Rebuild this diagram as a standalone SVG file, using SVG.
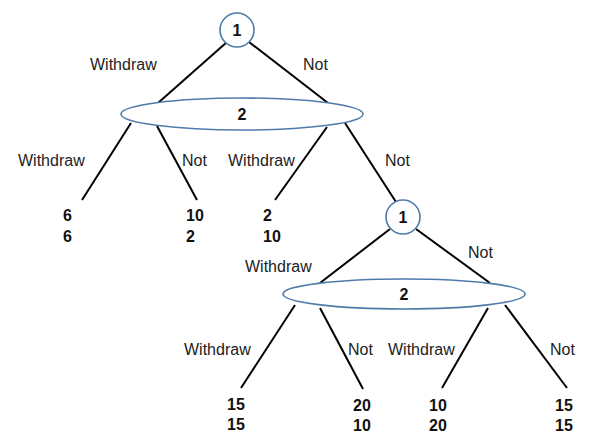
<svg xmlns="http://www.w3.org/2000/svg" width="600" height="441" viewBox="0 0 600 441">
<style>
.edge{stroke:#000;stroke-width:2;fill:none}
.node{fill:#fff;stroke:#4f7bab;stroke-width:1.6}
.lbl{font-family:"Liberation Sans",Arial,sans-serif;font-size:16px;fill:#222}
.num{font-family:"Liberation Sans",Arial,sans-serif;font-size:16px;font-weight:bold;fill:#111}
</style>
<rect width="600" height="441" fill="#fff"/>
<g id="connectors">
<line class="edge" x1="227" y1="42" x2="158" y2="103"/>
<line class="edge" x1="249" y1="42" x2="328" y2="103"/>
<line class="edge" x1="131" y1="123" x2="82" y2="200"/>
<line class="edge" x1="157" y1="126" x2="197" y2="200"/>
<line class="edge" x1="327" y1="127" x2="275" y2="200"/>
<line class="edge" x1="345" y1="123" x2="396" y2="202"/>
<line class="edge" x1="390" y1="229" x2="320" y2="283"/>
<line class="edge" x1="416" y1="229" x2="490" y2="283"/>
<line class="edge" x1="295" y1="305" x2="241" y2="388"/>
<line class="edge" x1="320" y1="308" x2="363" y2="389"/>
<line class="edge" x1="488" y1="308" x2="442" y2="388"/>
<line class="edge" x1="505" y1="305" x2="567" y2="388"/>
</g>
<g id="n1">
<circle class="node" cx="237" cy="30" r="17"/>
<text class="num" x="237" y="36" text-anchor="middle">1</text>
</g>
<g id="n2">
<ellipse class="node" cx="242" cy="114" rx="121" ry="16"/>
<text class="num" x="242" y="120" text-anchor="middle">2</text>
</g>
<g id="n3">
<circle class="node" cx="403" cy="217" r="17"/>
<text class="num" x="403" y="223" text-anchor="middle">1</text>
</g>
<g id="n4">
<ellipse class="node" cx="404" cy="294" rx="121" ry="15"/>
<text class="num" x="404" y="300" text-anchor="middle">2</text>
</g>
<g id="labels">
<text class="lbl" x="90" y="70">Withdraw</text>
<text class="lbl" x="303" y="70">Not</text>
<text class="lbl" x="18" y="166">Withdraw</text>
<text class="lbl" x="182" y="166">Not</text>
<text class="lbl" x="228" y="166">Withdraw</text>
<text class="lbl" x="385" y="166">Not</text>
<text class="lbl" x="245" y="272">Withdraw</text>
<text class="lbl" x="468" y="258">Not</text>
<text class="lbl" x="184" y="355">Withdraw</text>
<text class="lbl" x="348" y="355">Not</text>
<text class="lbl" x="388" y="355">Withdraw</text>
<text class="lbl" x="550" y="355">Not</text>
</g>
<g id="payoffs">
<text class="num" x="63" y="221">6</text><text class="num" x="63" y="242">6</text>
<text class="num" x="186" y="221">10</text><text class="num" x="186" y="242">2</text>
<text class="num" x="263" y="221">2</text><text class="num" x="263" y="242">10</text>
<text class="num" x="227" y="410">15</text><text class="num" x="227" y="430">15</text>
<text class="num" x="353" y="411">20</text><text class="num" x="353" y="431">10</text>
<text class="num" x="429" y="411">10</text><text class="num" x="429" y="431">20</text>
<text class="num" x="555" y="411">15</text><text class="num" x="555" y="431">15</text>
</g>
</svg>
